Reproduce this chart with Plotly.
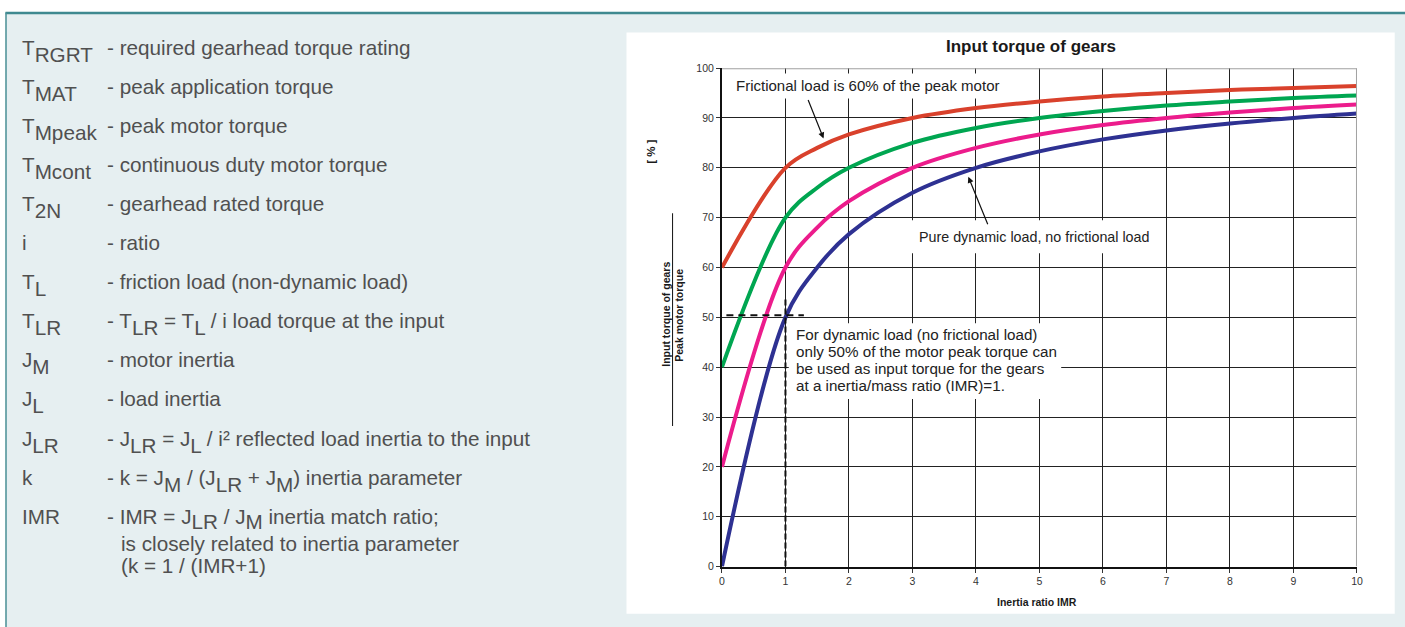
import re
import plotly.graph_objects as go

W, H = 1405, 627

# ---------------- data ----------------
imr = [0, 1, 1.5, 2, 3, 4, 5, 6, 7, 8, 9, 10]
torque_friction60 = [60, 80, 84, 86.7, 90, 92, 93.3, 94.3, 95, 95.6, 96, 96.4]
torque_friction40 = [40, 70, 76, 80, 85, 88, 90, 91.4, 92.5, 93.3, 94, 94.5]
torque_friction20 = [20, 60, 68, 73.3, 80, 84, 86.7, 88.6, 90, 91.1, 92, 92.7]
torque_dynamic = [0, 50, 60, 66.7, 75, 80, 83.3, 85.7, 87.5, 88.9, 90, 90.9]
series = [torque_friction60, torque_friction40, torque_friction20, torque_dynamic]
series_colors = ["#d9412c", "#00a651", "#ec1c8c", "#2e3192"]

x_ticks = list(range(0, 11))
y_ticks = list(range(0, 101, 10))

chart_title = "Input torque of gears"
x_title = "Inertia ratio IMR"
y_title_num = "Input torque of gears"
y_title_den = "Peak motor torque"
y_title_unit = "[ % ]"

note_friction = "Frictional load is 60% of the peak motor"
note_dynamic = "Pure dynamic load, no frictional load"
note_imr = ["For dynamic load (no frictional load)",
            "only 50% of the motor peak torque can",
            "be used as input torque for the gears",
            "at a inertia/mass ratio (IMR)=1."]

# glossary: symbol, subscript, description ( _{..} marks a subscript )
gloss_symbols = ["T", "T", "T", "T", "T", "i", "T", "T", "J", "J", "J", "k", "IMR"]
gloss_subs = ["RGRT", "MAT", "Mpeak", "Mcont", "2N", "", "L", "LR", "M", "L", "LR", "", ""]
gloss_desc = [
    "- required gearhead torque rating",
    "- peak application torque",
    "- peak motor torque",
    "- continuous duty motor torque",
    "- gearhead rated torque",
    "- ratio",
    "- friction load (non-dynamic load)",
    "- T_{LR} = T_{L} / i load torque at the input",
    "- motor inertia",
    "- load inertia",
    "- J_{LR} = J_{L} / i\u00b2 reflected load inertia to the input",
    "- k = J_{M} / (J_{LR} + J_{M}) inertia parameter",
    "- IMR = J_{LR} / J_{M} inertia match ratio;",
]
gloss_extra = ["is closely related to inertia parameter", "(k = 1 / (IMR+1)"]

# screen calibration (layout px -> photographed px)
SX, BX = 0.992, 4.5
SY, BY = 0.982, 5.5


def fx(x):
    return ((x - BX) / SX) / W


def fy(y):
    return 1 - ((y - BY) / SY) / H


def sub(s, shift=6.5):
    return '<span style="baseline-shift:-%spx">%s</span>' % (shift, s)


def subs(text, shift=6.5):
    return re.sub(r"_\{([^}]*)\}", lambda m: sub(m.group(1), shift), text)


fig = go.Figure()
for vals, col in zip(series, series_colors):
    fig.add_trace(go.Scatter(x=imr, y=vals, mode="lines", hoverinfo="skip",
                             line=dict(color=col, width=4, shape="spline", smoothing=1),
                             showlegend=False))

FONT = "Arial, Liberation Sans, sans-serif"
GRID = "#222222"

fig.update_layout(
    width=W, height=H, autosize=False,
    margin=dict(l=0, r=0, t=0, b=0, pad=0),
    paper_bgcolor="white", plot_bgcolor="white",
    font=dict(family=FONT, color="#333333"),
    xaxis=dict(domain=[fx(722.3), fx(1356.3)], range=[0, 10], tickvals=x_ticks,
               showgrid=True, gridcolor=GRID, gridwidth=1, zeroline=False,
               showline=True, linecolor="#111111", linewidth=2, mirror=False,
               ticks="outside", ticklen=4, tickcolor="#333", tickwidth=1,
               tickfont=dict(size=10.5, color="#333", family=FONT), fixedrange=True),
    yaxis=dict(domain=[fy(566.7), fy(67.7)], range=[0, 100], tickvals=y_ticks,
               showgrid=True, gridcolor=GRID, gridwidth=1, zeroline=False,
               showline=True, linecolor="#111111", linewidth=2, mirror=False,
               ticks="outside", ticklen=4, tickcolor="#333", tickwidth=1,
               tickfont=dict(size=10.5, color="#333", family=FONT), fixedrange=True),
)

shapes = [
    dict(type="rect", xref="paper", yref="paper", x0=fx(7), x1=1.05, y0=-0.05, y1=fy(12),
         fillcolor="#e6eff1", line=dict(width=0), layer="below"),
    dict(type="rect", xref="paper", yref="paper", x0=fx(627), x1=fx(1394), y0=fy(614), y1=fy(32),
         fillcolor="white", line=dict(width=0), layer="below"),
    dict(type="line", xref="paper", yref="paper", x0=fx(7), x1=1.05, y0=fy(12.5), y1=fy(12.5),
         line=dict(color="#3f8990", width=2.5), layer="below"),
    dict(type="line", xref="paper", yref="paper", x0=fx(7.5), x1=fx(7.5), y0=fy(12), y1=-0.05,
         line=dict(color="#4a9096", width=1.5), layer="below"),
    # gray frame on top/right of the plot
    dict(type="line", xref="x", yref="y", x0=10, x1=10, y0=0, y1=100,
         line=dict(color="#a0a0a0", width=2)),
    dict(type="line", xref="x", yref="y", x0=0, x1=10, y0=100, y1=100,
         line=dict(color="#a0a0a0", width=2)),
    # dashed guide lines at IMR = 1 / 50 %
    dict(type="line", xref="x", yref="y", x0=0.07, x1=1.29, y0=50.4, y1=50.4,
         line=dict(color="#111", width=2, dash="7px,5px")),
    dict(type="line", xref="x", yref="y", x0=1, x1=1, y0=0, y1=54,
         line=dict(color="#111", width=2, dash="6px,3px")),
    # fraction bar of the y title
    dict(type="line", xref="paper", yref="paper", x0=fx(673), x1=fx(673), y0=fy(213), y1=fy(426),
         line=dict(color="#111", width=1)),
    # white boxes behind the notes
    dict(type="rect", xref="paper", yref="paper", x0=fx(729), x1=fx(1005), y0=fy(98), y1=fy(73),
         fillcolor="white", line=dict(width=0)),
    dict(type="rect", xref="paper", yref="paper", x0=fx(910), x1=fx(1155), y0=fy(253), y1=fy(220),
         fillcolor="white", line=dict(width=0)),
    dict(type="rect", xref="paper", yref="paper", x0=fx(789), x1=fx(1061), y0=fy(399), y1=fy(323),
         fillcolor="white", line=dict(width=0)),
]

ann = []
TFONT = dict(size=17, color="#1a1a1a", family=FONT)
ann.append(dict(text="<b>%s</b>" % chart_title, xref="paper", yref="paper", x=fx(1031), y=fy(46),
                xanchor="center", yanchor="middle", showarrow=False, font=TFONT))
ann.append(dict(text="<b>%s</b>" % x_title, xref="paper", yref="paper", x=fx(1037), y=fy(602),
                xanchor="center", yanchor="middle", showarrow=False,
                font=dict(size=10.5, color="#1a1a1a", family=FONT)))
for txt, xp, yp, sz in [(y_title_unit, 652, 152, 11.5), (y_title_num, 667, 314, 10.5), (y_title_den, 680, 315, 10.5)]:
    ann.append(dict(text="<b>%s</b>" % txt, xref="paper", yref="paper", x=fx(xp), y=fy(yp),
                    xanchor="center", yanchor="middle", showarrow=False, textangle=-90,
                    font=dict(size=sz, color="#1a1a1a", family=FONT)))

# chart notes
ann.append(dict(text=note_friction, xref="paper", yref="paper", x=fx(735), y=fy(85),
                xanchor="left", yanchor="middle", showarrow=False, borderpad=0,
                font=dict(size=15, color="#222", family=FONT)))
ann.append(dict(text=note_dynamic, xref="paper", yref="paper", x=fx(918), y=fy(237),
                xanchor="left", yanchor="middle", showarrow=False, borderpad=0,
                font=dict(size=14.3, color="#222", family=FONT)))
for k, line in enumerate(note_imr):
    ann.append(dict(text=line, xref="paper", yref="paper", x=fx(795), y=fy(334 + 17 * k),
                    xanchor="left", yanchor="middle", showarrow=False, borderpad=0,
                    font=dict(size=15.2, color="#222", family=FONT)))
# arrows
ann.append(dict(text="", x=1.6, y=85.9, xref="x", yref="y", ax=-16, ay=-40, showarrow=True,
                arrowhead=2, arrowsize=1, arrowwidth=1.2, arrowcolor="#111", standoff=0))
ann.append(dict(text="", x=3.88, y=78.2, xref="x", yref="y", ax=20, ay=49, showarrow=True,
                arrowhead=2, arrowsize=1, arrowwidth=1.2, arrowcolor="#111", standoff=0))

# glossary
GSIZE = 20.7
GFONT = dict(size=GSIZE, color="#505050", family=FONT)
last = len(gloss_symbols) - 1
for i, (sym, sb, desc) in enumerate(zip(gloss_symbols, gloss_subs, gloss_desc)):
    top = 34.5 + 39.1 * i
    sym_txt = sym + (sub(sb) if sb else "")
    ann.append(dict(text=sym_txt, xref="paper", yref="paper", x=fx(22), y=fy(top),
                    xanchor="left", yanchor="top", showarrow=False, borderpad=0, font=GFONT))
    shift = 6.5 if i < last else 4.5
    ann.append(dict(text=subs(desc, shift), xref="paper", yref="paper", x=fx(107), y=fy(top),
                    xanchor="left", yanchor="top", showarrow=False, borderpad=0, font=GFONT))

# continuation lines of the last entry (tighter line pitch via smaller base size)
big = '<span style="font-size:%spx">%%s</span>' % GSIZE
extra_txt = "<br>".join(big % t for t in gloss_extra)
ann.append(dict(text=extra_txt, xref="paper", yref="paper", x=fx(121), y=fy(531),
                xanchor="left", yanchor="top", align="left", showarrow=False, borderpad=0,
                font=dict(size=17, color="#505050", family=FONT)))

fig.update_layout(shapes=shapes, annotations=ann)
fig.write_html("out.html", config={"displayModeBar": False},
               post_script="document.body.style.margin='0';document.body.style.padding='0';"
                           "document.documentElement.style.overflow='hidden';")
